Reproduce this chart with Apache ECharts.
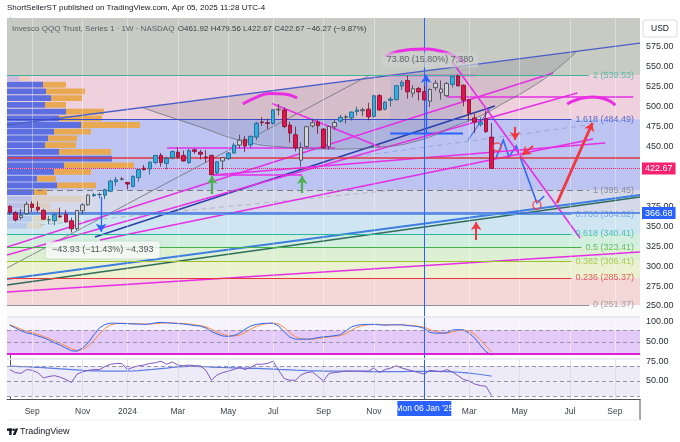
<!DOCTYPE html>
<html>
<head>
<meta charset="utf-8">
<script src="https://cdn.jsdelivr.net/npm/echarts@6/dist/echarts.min.js"></script>
<style>
html,body{margin:0;padding:0;background:#fff}
#chart{width:680px;height:442px}
</style>
</head>
<body>
<div id="chart"></div>
<script>
// weekly bars, index 0 = week of 2023-08-07
// [open, high, low, close]
const candles = [
  [375.0,376.5,364.5,367.7],[367.0,369.0,356.0,358.0],[361.0,371.5,358.5,364.0],[366.0,381.0,365.0,377.6],
  [378.0,381.5,368.0,373.6],[374.0,381.0,367.5,370.8],[370.0,372.0,358.0,358.9],[358.0,362.8,352.6,358.3],
  [357.0,366.3,351.3,364.7],[363.0,373.5,360.5,362.0],[365.0,370.5,354.5,355.5],[357.0,361.0,342.4,346.9],
  [347.0,370.5,345.0,369.9],[369.5,379.0,365.5,376.9],[377.0,390.0,376.0,389.2],[388.5,392.0,387.0,389.7],
  [389.7,392.5,385.0,389.9],[389.0,397.0,384.0,395.9],[394.0,408.5,393.0,406.6],[406.0,412.0,401.0,408.4],
  [409.0,412.0,407.5,409.5],[405.0,406.0,396.3,403.0],[400.0,414.0,399.0,412.6],[411.0,421.5,406.0,421.2],
  [423.0,427.0,420.0,421.2],[422.0,431.5,415.0,430.5],[430.0,439.5,428.0,438.9],[439.0,442.0,425.0,430.0],
  [429.0,437.5,421.5,435.3],[436.0,445.0,434.0,443.8],[443.0,449.3,435.0,437.0],[439.0,445.0,431.0,432.0],
  [430.0,447.0,428.0,445.0],[446.0,447.5,441.0,444.0],[443.0,446.0,434.0,440.5],[437.0,446.0,430.0,436.4],
  [439.0,440.0,414.0,414.7],[417.0,432.0,415.5,431.0],[432.0,436.5,421.0,436.0],[435.0,443.0,433.0,442.0],
  [442.0,455.0,441.0,451.8],[452.0,465.0,448.0,458.0],[459.0,463.0,443.0,450.7],[452.0,464.0,448.0,462.9],
  [462.0,481.0,458.0,479.2],[481.0,487.0,476.0,480.2],[480.0,485.0,472.0,479.1],[479.0,497.0,477.5,496.2],
  [497.0,503.5,489.0,496.0],[496.0,499.0,473.0,475.2],[477.0,481.0,455.0,467.0],[465.0,475.0,444.0,448.8],
  [433.0,455.0,425.0,448.9],[450.0,476.0,448.0,475.0],[476.0,485.0,474.0,480.0],[481.0,483.0,466.0,476.3],
  [472.0,473.0,447.0,448.7],[450.0,476.0,446.5,475.3],[475.0,484.0,471.0,480.2],[482.0,490.0,480.0,486.8],
  [487.0,490.0,479.0,487.3],[486.0,494.0,482.5,493.4],[494.0,500.0,489.0,496.0],[495.0,499.0,488.0,496.3],
  [497.0,505.0,483.0,487.4],[488.0,515.0,486.0,513.8],[514.0,516.0,495.0,496.0],[497.0,507.0,495.5,505.8],
  [508.0,512.5,500.0,509.7],[509.0,527.0,508.0,526.5],[526.0,533.5,521.0,530.5],[533.0,539.0,510.0,518.7],
  [517.0,527.0,512.0,522.6],[523.0,525.0,508.0,518.6],[519.0,526.0,508.0,508.6],[507.0,523.0,499.7,521.7],
  [524.0,533.5,520.0,529.6],[518.0,533.0,509.0,522.3],[514.0,531.0,512.0,529.3],[528.0,538.5,524.0,538.2],
  [538.5,540.8,526.0,526.1],[527.0,528.0,500.6,508.2],[509.0,510.0,482.0,491.8],[486.0,491.0,467.0,480.8],
  [478.0,487.0,475.0,480.8],[485.0,495.0,467.0,468.9],[461.92,479.56,422.67,422.67]
];
// bars painted grey on the reference
const grayWeeks = [2,3,12,13,14,20,38,41,48,52,53,54,57,58,60,63,72,75,76,77,78];

const stochK = [92,85,78,73,70,65,61,55,48,42,35,28,27,35,48,68,85,94,97,97,96,96,95,95,94,95,98,99,98,97,
  96,95,93,91,90,85,76,70,65,64,66,72,82,90,94,96,97,97,90,75,62,57,57,57,58,61,63,64,66,68,
  78,88,92,94,94,94,93,92,93,93,93,91,90,88,84,74,72,72,73,80,81,80,72,60,42,26,17];
const stochD = [93,88,82,77,73,69,64,59,53,46,40,33,29,31,40,53,70,84,93,96,97,96,96,95,95,95,96,97,98,98,
  97,96,95,93,91,88,82,75,69,66,65,67,74,82,89,94,96,97,95,86,73,63,58,57,57,59,61,63,64,66,
  71,79,87,91,93,94,94,93,93,93,93,92,91,89,87,81,76,73,72,75,79,80,77,69,56,40,26];
const rsi = [65,61,60,65,64,61,54,56,57,55,52,48,59,62,64,65,65,69,72,73,73,65,68,70,71,73,74,76,72,75,
  71,70,71,70,70,64,51,58,61,63,65,68,65,68,72,72,73,76,64,53,51,51,58,61,62,56,50,60,61,62,
  63,63,63,63,63,67,61,65,67,70,67,65,63,61,59,64,63,62,65,62,57,52,50,46,44,43,31];
const rsiMa = [69.5,69.3,69,68.7,68.3,68,67.5,67,66.5,66,65.5,65,64.5,64,63.7,63.4,63.2,63,63,63,
  63,63,63.3,63.7,64.2,64.8,65.5,66.3,67,67.8,68.5,69,69.3,69.2,69,68.7,68.3,68,67.7,67.5,
  67.3,67,66.8,66.6,66.5,66.3,66,65.7,65.3,65,64.6,64.2,63.9,63.6,63.4,63.2,63,63,63,63,
  63,63,62.8,62.6,62.4,62.3,62.2,62.2,62.2,62.3,62.4,62.5,62.5,62.5,62.5,62.6,62.6,62.5,62.3,62,
  61.5,61,60.3,59.5,58.5,57.5,56.5];

const priceTicks = [250,275,300,325,350,375,450,475,500,525,550,575];
const monthTicks = [4,13,21,30,39,47,56,65,82,91,100,108];
const monthLabels = ['Sep','Nov','2024','Mar','May','Jul','Sep','Nov','Mar','May','Jul','Sep'];
const crossWeek = 74;

const fibLevels = ['2','1.618','1','0.786','0.618','0.5','0.382','0.236','0'];
const fibPrices = [539.53,484.49,395.45,364.62,340.41,323.41,306.41,285.37,251.37];

// left volume profile, rows from 540.3 down to 346.6
const profileBins = [536,528,519,511,502,494,486,477,469,460,452,443,435,427,418,410,401,393,384,376,367,359,351];
const profileUp   = [12,36,39,44,38,59,52,74,47,41,38,52,105,57,47,30,50,27,25,22,30,25,20];
const profileDown = [10,23,39,31,21,38,43,59,37,29,31,52,0,70,37,19,39,13,52,21,23,30,15];

// drawings, [week, price]
const upperChannel = [[-0.5,477.1],[112.5,580.0]];
const lowerChannel = [[-0.5,283.9],[112.5,389.3]];
const greenTrend = [[-0.5,276.4],[112.5,386.8]];
const navyTrend = [[15.2,336.6],[86.6,501.0]];
const magentaLines = [
  [[-0.5,267.6],[112.5,317.8]],
  [[-0.5,324.0],[97.0,542.3]],
  [[-0.5,314.0],[101.3,517.3]],
  [[16.1,332.8],[104.1,459.5]],
  [[36.3,414.4],[106.3,454.5]],
  [[78.1,512.3],[111.3,512.3]],
  [[67.0,539.2],[83.1,539.2]],
  [[28.1,448.3],[58.1,448.3]],
  [[36.3,414.4],[52.2,414.4]],
  [[46.8,504.2],[66.1,449.5]],
  [[79.0,556.2],[101.8,335.3]]
];
const grayLine = [[-0.5,297.7],[64.3,539.9]];
const grayDash = [[5.4,351.6],[68.8,395.6]];
const blueDash = [[57.2,433.2],[104.5,478.4]];
const measureBase = [[67.9,466.5],[80.9,466.5]];
const wedge = [[81.8,458.3],[85.75,498.5]];
const zigzag = [[86.8,435.7],[88.1,458.3],[89.1,437.0],[90.4,450.8],[94.1,379.2],[95.4,388.0]];
const arcPath = [[23.8,498.5],[34.0,474.6],[41.6,457.0],[48.8,449.5],[57.2,447.0],[66.1,449.5],[73.3,458.3],
  [78.6,473.4],[84.0,488.4],[88.8,507.2],[92.9,523.5],[97.0,543.6],[101.3,570.0]];
const browArcs = [
  [[41.6,503.5],[43.9,511.6],[46.5,516.6],[49.0,516.0],[51.3,511.0]],
  [[67.0,563.7],[69.3,569.3],[71.5,571.9],[74.1,572.5],[76.8,570.0],[79.0,565.0],[81.3,554.9]],
  [[99.5,503.5],[101.6,509.8],[104.0,512.3],[106.3,509.8],[108.1,502.2]]
];
const redArrows = [
  [[97.7,379.2],[104.0,479.6]],
  [[90.2,474.6],[90.2,458.3]],
  [[93.4,450.8],[91.5,439.5]],
  [[83.25,332.8],[83.25,355.4]]
];
const greenArrows = [[[36.1,390.5],[36.1,413.1]],[[52.2,391.8],[52.2,413.1]]];
const blueArrows = [[[16.3,387.0],[16.3,343.1]],[[74.3,466.5],[74.3,540.3]]];
const targetCircles = [[87.0,449.5],[94.1,376.7]];

const FONT = 'Liberation Sans, Arial, sans-serif';
const X_MIN = -0.5, X_MAX = 112.5;
const Y_MIN = 236.2, Y_MAX = 611.4;
const MAIN_TOP = 18, MAIN_H = 299;
const PLOT_W = 633;

const chart = echarts.init(document.getElementById('chart'));

const priceToY = p => MAIN_TOP + (Y_MAX - p) / (Y_MAX - Y_MIN) * MAIN_H;
const profTop = priceToY(540.3), profBottom = priceToY(346.6);

// label width for the fib tags, so the line stops before the text
const ctx = document.createElement('canvas').getContext('2d');
ctx.font = '9px ' + FONT;
const fibColors = ['#3fb39a','#3a4cc9','#787b86','#5d9ad8','#2bb5a0','#43b048','#9dbf2c','#e53935','#8d8f98'];
const fibText = fibLevels.map((l, k) => l + ' (' + fibPrices[k].toFixed(2) + ')');
const xPerWeek = PLOT_W / (X_MAX - X_MIN);
const fibEnd = fibText.map(t => X_MIN + (PLOT_W - 7 - ctx.measureText(t).width - 3) / xPerWeek);

const bandDefs = [
  [Y_MAX, 539.53, '#c7cbc4'],
  [539.53, 484.49, '#eed1dd'],
  [484.49, 395.45, '#bdc4f2'],
  [395.45, 364.62, '#d5d9e9'],
  [364.62, 340.41, '#cfe6f2'],
  [340.41, 323.41, '#d2eedf'],
  [323.41, 306.41, '#ddf0d4'],
  [306.41, 285.37, '#ecf1d1'],
  [285.37, 251.37, '#f4d7d7'],
  [251.37, Y_MIN, '#fbfbfb']
];

const candleData = candles.map((c, i) => {
  const item = { value: [i, c[0], c[3], c[2], c[1]] };
  if (grayWeeks.includes(i)) {
    item.itemStyle = { color: '#d3d4d8', color0: '#d3d4d8', borderColor: '#3c3d45', borderColor0: '#3c3d45' };
  }
  return item;
});

const vGrid = (col) => monthTicks.map(t => ({ xAxis: t, lineStyle: { color: col, width: 1, type: 'solid' } }));
const crossLine = { xAxis: crossWeek, lineStyle: { color: '#2962ff', width: 1, type: 'solid' }, label: { show: false } };
const weekIdx = candles.map((c, i) => i);

const seg = (coords, color, width, extra) => Object.assign({ coords, lineStyle: { color, width, opacity: 1 } }, extra || {});

const option = {
  animation: false,
  backgroundColor: '#ffffff',
  textStyle: { fontFamily: FONT },
  grid: [
    { left: 7, top: MAIN_TOP, width: PLOT_W, height: MAIN_H },
    { left: 7, top: 317, width: PLOT_W, height: 42 },
    { left: 7, top: 359, width: PLOT_W, height: 40 },
    { left: 7, top: profTop, width: 400, height: profBottom - profTop }
  ],
  xAxis: [
    { gridIndex: 0, type: 'value', min: X_MIN, max: X_MAX, show: false },
    { gridIndex: 1, type: 'value', min: X_MIN, max: X_MAX, show: false },
    { gridIndex: 2, type: 'value', min: X_MIN, max: X_MAX,
      axisLine: { show: true, lineStyle: { color: '#50535e' } },
      axisTick: { show: false }, splitLine: { show: false },
      axisLabel: { customValues: monthTicks, margin: 8, fontSize: 8.5, color: '#3b3e48', fontFamily: FONT,
        formatter: v => monthLabels[monthTicks.indexOf(Math.round(v))] || '' } },
    { gridIndex: 3, type: 'value', min: 0, max: 400, show: false }
  ],
  yAxis: [
    { gridIndex: 0, type: 'value', position: 'right', min: Y_MIN, max: Y_MAX,
      axisLine: { show: true, lineStyle: { color: '#50535e' } }, axisTick: { show: false }, splitLine: { show: false },
      axisLabel: { customValues: priceTicks, margin: 6, fontSize: 9, color: '#2a2e39', fontFamily: FONT, formatter: v => v.toFixed(2) } },
    { gridIndex: 1, type: 'value', position: 'right', min: 7.5, max: 112.5,
      axisLine: { show: true, lineStyle: { color: '#50535e' } }, axisTick: { show: false }, splitLine: { show: false },
      axisLabel: { customValues: [50, 100], margin: 6, fontSize: 9, color: '#2a2e39', fontFamily: FONT, formatter: v => v.toFixed(2) } },
    { gridIndex: 2, type: 'value', position: 'right', min: 26.3, max: 78.9,
      axisLine: { show: true, lineStyle: { color: '#50535e' } }, axisTick: { show: false }, splitLine: { show: false },
      axisLabel: { customValues: [50, 75], margin: 6, fontSize: 9, color: '#2a2e39', fontFamily: FONT, formatter: v => v.toFixed(2) } },
    { gridIndex: 3, type: 'category', data: profileBins, inverse: true, show: false }
  ],
  series: [
    // fib zones
    { type: 'line', xAxisIndex: 0, yAxisIndex: 0, z: 1, silent: true, symbol: 'none',
      data: [[X_MIN, 400], [X_MAX, 400]], lineStyle: { opacity: 0 },
      markArea: { silent: true, data: bandDefs.map(b => [{ yAxis: b[0], itemStyle: { color: b[2], opacity: 1 } }, { yAxis: b[1] }]) },
      markLine: { silent: true, symbol: 'none', label: { show: false }, data: vGrid('rgba(255,255,255,0.35)') } },
    // arc fill
    { type: 'custom', xAxisIndex: 0, yAxisIndex: 0, z: 2, silent: true, data: [[0, 0]],
      renderItem: (params, api) => ({ type: 'polygon', shape: { points: arcPath.map(p => api.coord(p)) },
        style: { fill: 'rgba(95,95,115,0.17)' } }) },
    // measure box
    { type: 'line', xAxisIndex: 0, yAxisIndex: 0, z: 2, silent: true, symbol: 'none', data: [],
      markArea: { silent: true, data: [[{ coord: [67.9, 540.3], itemStyle: { color: 'rgba(185,185,225,0.35)' } }, { coord: [80.9, 466.5] }]] } },
    // volume profile
    { type: 'bar', xAxisIndex: 3, yAxisIndex: 3, stack: 'vp', barWidth: '86%', z: 3, silent: true,
      data: profileUp.map((v, k) => ({ value: v, itemStyle: { color: (k < 1 || k > 17) ? 'rgba(140,150,225,0.35)' : '#5d6fe0' } })) },
    { type: 'bar', xAxisIndex: 3, yAxisIndex: 3, stack: 'vp', barWidth: '86%', z: 3, silent: true,
      data: profileDown.map((v, k) => ({ value: v, itemStyle: { color: (k < 1 || k > 17) ? 'rgba(235,190,130,0.35)' : '#e9a952' } })) },
    // fib lines
    { type: 'line', xAxisIndex: 0, yAxisIndex: 0, z: 4, silent: true, symbol: 'none', data: [],
      markLine: { silent: true, symbol: 'none', label: { show: false },
        data: fibPrices.map((p, k) => [
          { coord: [X_MIN, p], lineStyle: { color: fibColors[k], width: 1, type: k === 2 ? [6, 4] : 'solid' } },
          { coord: [fibEnd[k], p] }]) } },
    { type: 'scatter', xAxisIndex: 0, yAxisIndex: 0, z: 6, silent: true, symbolSize: 0,
      data: fibPrices.map((p, k) => ({ value: [X_MIN + (PLOT_W - 6) / xPerWeek, p],
        label: { show: true, position: 'left', distance: 0, formatter: fibText[k], color: fibColors[k], fontSize: 9, fontFamily: FONT } })) },
    // trend lines
    { type: 'lines', coordinateSystem: 'cartesian2d', xAxisIndex: 0, yAxisIndex: 0, polyline: true, z: 4, silent: true,
      data: [
        seg(upperChannel, '#4a5fc9', 1.3),
        seg(lowerChannel, '#3e7ee0', 1.8),
        seg(greenTrend, '#2f6d5a', 1.6),
        seg(navyTrend, '#2c3fa8', 1.6),
        seg(grayLine, '#6d6f78', 0.8),
        seg(grayDash, '#8f929b', 1, { lineStyle: { color: '#8f929b', width: 1, type: [5, 4] } }),
        seg(blueDash, '#6f86d8', 1, { lineStyle: { color: '#6f86d8', width: 1, type: [5, 4] } }),
        seg(measureBase, '#2962ff', 2),
        seg(wedge, '#3e6ef0', 1.2),
        seg(zigzag, '#3168f5', 1.6),
        ...magentaLines.map(l => seg(l, '#e62ee6', 1.6))
      ] },
    // arc outline
    { type: 'line', xAxisIndex: 0, yAxisIndex: 0, z: 4, silent: true, symbol: 'none', smooth: true,
      data: arcPath, lineStyle: { color: '#6a6c77', width: 0.8 } },
    ...browArcs.map(a => ({ type: 'line', xAxisIndex: 0, yAxisIndex: 0, z: 5, silent: true, symbol: 'none', smooth: true,
      data: a, lineStyle: { color: '#ea2ee4', width: 3 } })),
    // candles
    { type: 'candlestick', xAxisIndex: 0, yAxisIndex: 0, z: 5, silent: true, barWidth: 4,
      encode: { x: 0, y: [1, 2, 3, 4] },
      itemStyle: { color: '#33aee0', color0: '#e3124d', borderColor: '#1a5f85', borderColor0: '#7d0a2a', borderWidth: 0.8 },
      data: candleData,
      markLine: { silent: true, symbol: 'none',
        data: [
          { yAxis: 435.7, lineStyle: { color: '#e0393e', width: 1.5, type: 'solid' }, label: { show: false } },
          { yAxis: 422.67, lineStyle: { color: '#f7206c', width: 1, type: 'dotted' },
            label: { show: true, position: 'end', distance: 2, formatter: '422.67', color: '#fff', backgroundColor: '#f7206c', padding: [2, 3, 1, 3], fontSize: 9, fontFamily: FONT } },
          { yAxis: 395.73, lineStyle: { opacity: 0 },
            label: { show: true, position: 'end', distance: 2, formatter: '395.73', color: '#fff', backgroundColor: '#2962ff', padding: [2, 3, 1, 3], fontSize: 9, fontFamily: FONT } },
          { yAxis: 366.68, lineStyle: { color: '#3a6fe8', width: 1.5, type: 'solid' },
            label: { show: true, position: 'end', distance: 2, formatter: '366.68', color: '#fff', backgroundColor: '#2962ff', padding: [2, 3, 1, 3], fontSize: 9, fontFamily: FONT } },
          crossLine
        ] } },
    // arrows
    { type: 'lines', coordinateSystem: 'cartesian2d', xAxisIndex: 0, yAxisIndex: 0, z: 6, silent: true,
      symbol: ['none', 'arrow'], symbolSize: 8,
      data: [
        ...redArrows.map((a, k) => seg(a, '#f0373f', k === 0 ? 2.8 : 2)),
        ...greenArrows.map(a => seg(a, '#4caf50', 2.2)),
        ...blueArrows.map(a => seg(a, '#2962ff', 1.3))
      ] },
    { type: 'scatter', xAxisIndex: 0, yAxisIndex: 0, z: 6, silent: true, symbol: 'circle', symbolSize: 8,
      itemStyle: { color: 'rgba(255,255,255,0.25)', borderColor: '#f0373f', borderWidth: 1.5 }, data: targetCircles },
    { type: 'scatter', xAxisIndex: 0, yAxisIndex: 0, z: 6, silent: true, symbolSize: 0,
      data: [
        { value: [75.0, 558.7], label: { show: true, position: 'inside', formatter: '73.80 (15.80%) 7,380', color: '#434651',
          backgroundColor: 'rgba(208,208,208,0.85)', borderRadius: 3, padding: [3, 5], fontSize: 9, fontFamily: FONT } },
        { value: [16.6, 320.3], label: { show: true, position: 'inside', formatter: '\u221243.93 (\u221211.43%) \u22124,393', color: '#2a2e39',
          backgroundColor: '#ffffff', borderRadius: 3, padding: [4, 6], fontSize: 9, fontFamily: FONT,
          shadowColor: 'rgba(0,0,0,0.15)', shadowBlur: 3 } }
      ] },
    // stoch RSI
    { type: 'line', xAxisIndex: 1, yAxisIndex: 1, z: 3, silent: true, symbol: 'none', data: weekIdx.map(i => [i, stochD[i]]),
      lineStyle: { color: '#ff8a3d', width: 1 },
      markArea: { silent: true, data: [[{ yAxis: 80, itemStyle: { color: '#e3caf8' } }, { yAxis: 20 }], [{ yAxis: 112.5, itemStyle: { color: '#f6f3fc' } }, { yAxis: 80 }]] },
      markLine: { silent: true, symbol: 'none', label: { show: false },
        data: [
          ...vGrid('rgba(255,255,255,0.5)'),
          { yAxis: 80, lineStyle: { color: '#9a94a8', type: [4, 3], width: 1 } },
          { yAxis: 50, lineStyle: { color: '#9a94a8', type: [4, 3], width: 1 } },
          { yAxis: 20, lineStyle: { color: '#9a94a8', type: [4, 3], width: 1 } },
          { yAxis: 21, lineStyle: { color: '#e21fd8', type: 'solid', width: 2 } },
          crossLine
        ] } },
    { type: 'line', xAxisIndex: 1, yAxisIndex: 1, z: 4, silent: true, symbol: 'none', data: weekIdx.map(i => [i, stochK[i]]),
      lineStyle: { color: '#2f6bf2', width: 1 } },
    // RSI
    { type: 'line', xAxisIndex: 2, yAxisIndex: 2, z: 3, silent: true, symbol: 'none', data: weekIdx.map(i => [i, rsiMa[i]]),
      lineStyle: { color: '#5b7de2', width: 1.2 },
      markArea: { silent: true, data: [[{ yAxis: 70, itemStyle: { color: '#eeebf9' } }, { yAxis: 30 }]] },
      markLine: { silent: true, symbol: 'none', label: { show: false },
        data: [
          ...vGrid('rgba(215,215,228,0.7)'),
          { yAxis: 70, lineStyle: { color: '#9a94a8', type: [4, 3], width: 1 } },
          { yAxis: 50, lineStyle: { color: '#9a94a8', type: [4, 3], width: 1 } },
          { yAxis: 30, lineStyle: { color: '#9a94a8', type: [4, 3], width: 1 } },
          crossLine
        ] } },
    { type: 'line', xAxisIndex: 2, yAxisIndex: 2, z: 4, silent: true, symbol: 'none', data: weekIdx.map(i => [i, rsi[i]]),
      lineStyle: { color: '#7e57c2', width: 1 } }
  ]
};

chart.setOption(option);

// page furniture: header, legend, separators, crosshair tag, logo
const crossX = chart.convertToPixel({ xAxisIndex: 2 }, crossWeek);
chart.setOption({
  graphic: [
    { type: 'text', left: 7, top: 4, z: 10, style: { text: 'ShortSellerST published on TradingView.com, Apr 05, 2025 11:28 UTC-4',
      font: '8px ' + FONT, fill: '#131722' } },
    { type: 'text', left: 12, top: 23, z: 10, style: {
      text: '{t|Invesco QQQ Trust, Series 1 \u00b7 1W \u00b7 NASDAQ} {v|O461.92 H479.56 L422.67 C422.67 \u221246.27 (\u22129.87%)}',
      rich: { t: { font: '8px ' + FONT, fill: '#5a5d68' }, v: { font: '8px ' + FONT, fill: '#3a3d46' } } } },
    { type: 'rect', shape: { x: 643, y: 20, width: 34, height: 17, r: 3 }, z: 10,
      style: { fill: '#ffffff', stroke: '#d9dbe2', lineWidth: 1 } },
    { type: 'text', x: 660, y: 28.5, z: 11, style: { text: 'USD', font: '8.5px ' + FONT, fill: '#131722', align: 'center', verticalAlign: 'middle' } },
    { type: 'line', shape: { x1: 7, y1: 317, x2: 640, y2: 317 }, z: 10, style: { stroke: '#e4e6ee', lineWidth: 1.5 } },
    { type: 'line', shape: { x1: 7, y1: 359, x2: 640, y2: 359 }, z: 10, style: { stroke: '#e4e6ee', lineWidth: 1.5 } },
    { type: 'line', shape: { x1: 640, y1: 399, x2: 640, y2: 420 }, z: 10, style: { stroke: '#50535e', lineWidth: 1 } },
    { type: 'line', shape: { x1: 7, y1: 420, x2: 640, y2: 420 }, z: 10, style: { stroke: '#eceef3', lineWidth: 1 } },
    { type: 'rect', shape: { x: crossX - 27, y: 401, width: 54, height: 15 }, z: 10, style: { fill: '#2962ff' } },
    { type: 'text', x: crossX, y: 408.5, z: 11, style: { text: 'Mon 06 Jan \'25', font: '8.5px ' + FONT, fill: '#ffffff', align: 'center', verticalAlign: 'middle' } },
    { type: 'rect', shape: { x: 7, y: 428.5, width: 5, height: 2.4 }, z: 10, style: { fill: '#131722' } },
    { type: 'rect', shape: { x: 9.2, y: 428.5, width: 2.4, height: 6.5 }, z: 10, style: { fill: '#131722' } },
    { type: 'circle', shape: { cx: 13.6, cy: 429.8, r: 1.3 }, z: 10, style: { fill: '#131722' } },
    { type: 'polygon', shape: { points: [[15.6, 428.5], [18.2, 428.5], [15.4, 435], [12.8, 435]] }, z: 10, style: { fill: '#131722' } },
    { type: 'text', left: 20, top: 427, z: 10, style: { text: 'TradingView', font: '9px ' + FONT, fill: '#131722' } }
  ]
});
</script>
</body>
</html>
